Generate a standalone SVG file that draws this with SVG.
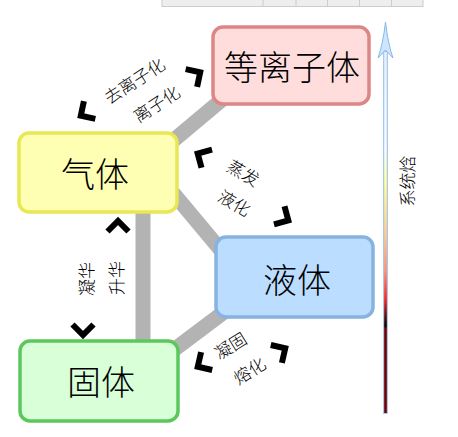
<svg xmlns="http://www.w3.org/2000/svg" width="458" height="437" viewBox="0 0 458 437">
<defs>
<style>
.band{stroke:#b3b3b3;stroke-width:15;fill:none;stroke-linecap:butt}
.node rect{stroke-width:3.5}
.ntxt{font-family:"Noto Sans CJK SC","Noto Sans CJK JP",sans-serif;font-size:34px;font-weight:300;fill:#000;text-anchor:middle;dominant-baseline:central}
.lbl{font-family:"Noto Sans CJK SC","Noto Sans CJK JP",sans-serif;font-size:17px;font-weight:300;fill:#000;text-anchor:middle;dominant-baseline:central}
.chev{fill:none;stroke:#000;stroke-width:6;stroke-linejoin:miter;stroke-miterlimit:10}
</style>
<path id="cv" class="chev" d="M-5.5,-10.5 L5,0 L-5.5,10.5"/>
<linearGradient id="enth" gradientUnits="userSpaceOnUse" x1="0" y1="58" x2="0" y2="413">
<stop offset="0" stop-color="#e4f0ff"/>
<stop offset="0.26" stop-color="#f6f9ff"/>
<stop offset="0.35" stop-color="#ffff99"/>
<stop offset="0.5" stop-color="#ffc890"/>
<stop offset="0.6" stop-color="#ff9070"/>
<stop offset="0.68" stop-color="#ff2020"/>
<stop offset="0.755" stop-color="#000000"/>
<stop offset="0.762" stop-color="#700000"/>
<stop offset="1" stop-color="#700000"/>
</linearGradient>
</defs>
<rect width="458" height="437" fill="#ffffff"/>
<g id="topstrip">
<rect x="162" y="-1" width="261" height="7.5" fill="#eeeeee" stroke="#cccccc" stroke-width="1"/>
<path d="M263,-1V6.5M296,-1V6.5M327.5,-1V6.5M359.5,-1V6.5M391.5,-1V6.5" stroke="#cccccc" stroke-width="1"/>
</g>
<g id="connectors">
<line class="band" x1="150" y1="160" x2="255" y2="72"/>
<line class="band" x1="143" y1="157" x2="250" y2="285"/>
<line class="band" x1="143" y1="170" x2="143" y2="370"/>
<line class="band" x1="143" y1="373" x2="260" y2="285"/>
</g>
<g id="plasma" class="node">
<rect x="213" y="27" width="156" height="77" rx="10" fill="#ffdddd" stroke="#dd8686"/>
<text class="ntxt" x="292" y="65">等离子体</text>
</g>
<g id="gas" class="node">
<rect x="19" y="133" width="158" height="79" rx="10" fill="#ffffb3" stroke="#e8e855"/>
<text class="ntxt" x="95" y="172">气体</text>
</g>
<g id="liquid" class="node">
<rect x="216" y="237" width="157" height="80" rx="10" fill="#bbddff" stroke="#88b2e0"/>
<text class="ntxt" x="297" y="278">液体</text>
</g>
<g id="solid" class="node">
<rect x="20" y="341" width="158" height="80" rx="10" fill="#d8ffd8" stroke="#5cc85c"/>
<text class="ntxt" x="101" y="380">固体</text>
</g>
<g id="transitions">
<use href="#cv" transform="translate(85,113) rotate(147)"/>
<use href="#cv" transform="translate(196,75) rotate(-33)"/>
<text class="lbl" transform="translate(134,80) rotate(-33)">去离子化</text>
<text class="lbl" transform="translate(156,103) rotate(-33)">离子化</text>
<use href="#cv" transform="translate(202,156) rotate(210)"/>
<use href="#cv" transform="translate(284,218) rotate(30)"/>
<text class="lbl" transform="translate(244,172) rotate(30)">蒸发</text>
<text class="lbl" transform="translate(235,202) rotate(30)">液化</text>
<use href="#cv" transform="translate(118,226) rotate(-90)"/>
<use href="#cv" transform="translate(83,330) rotate(90)"/>
<text class="lbl" transform="translate(85,279) rotate(-90)">凝华</text>
<text class="lbl" transform="translate(115,278) rotate(-90)">升华</text>
<use href="#cv" transform="translate(202,364) rotate(148)"/>
<use href="#cv" transform="translate(281,351) rotate(-32)"/>
<text class="lbl" transform="translate(230,345) rotate(-32)">凝固</text>
<text class="lbl" transform="translate(249,370) rotate(-32)">熔化</text>
</g>
<g id="enthalpy">
<rect x="383" y="50" width="5" height="364" fill="#a8c8ea"/>
<rect x="384.2" y="52" width="2.6" height="361" fill="url(#enth)"/>
<path d="M385.5,22 Q388,44 393,58 L385.5,50 L378,58 Q383,44 385.5,22 Z" fill="#cce6ff" stroke="#8ab8e8" stroke-width="1"/>
<text class="lbl" transform="translate(406,181) rotate(-90)">系统焓</text>
</g>
</svg>
